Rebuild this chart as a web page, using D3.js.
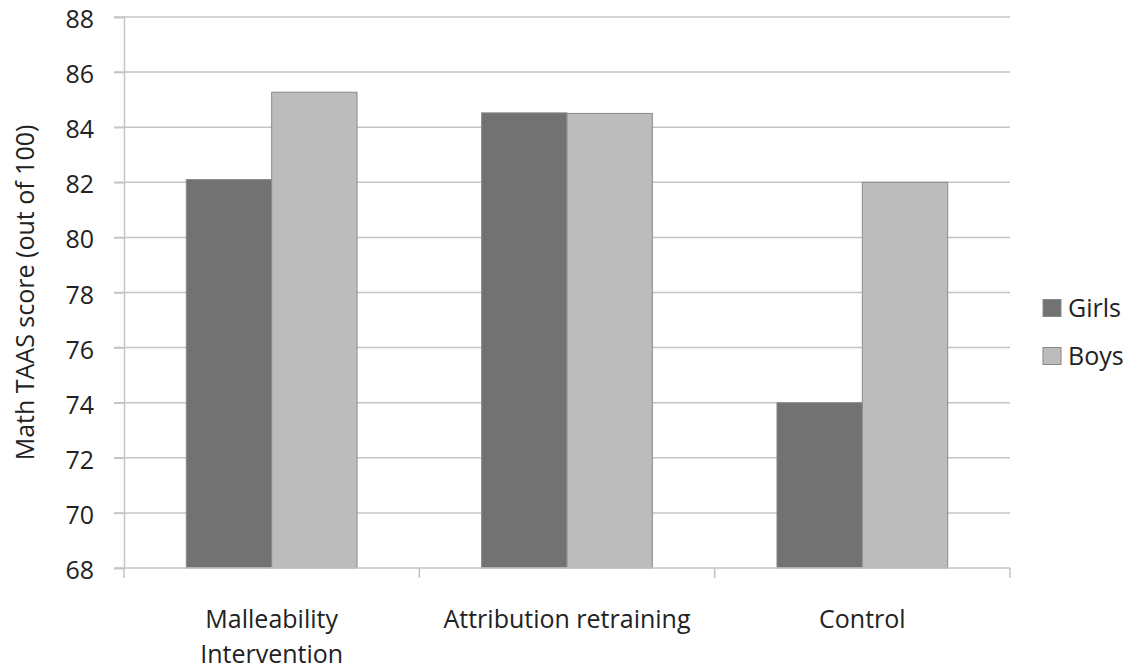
<!DOCTYPE html>
<html>
<head>
<meta charset="utf-8">
<script src="https://cdn.jsdelivr.net/npm/d3@7"></script>
<style>
  body { margin: 0; background: #fff; }
  text { font-family: "Open Sans", sans-serif; fill: #222; }
</style>
</head>
<body>
<div id="chart"></div>
<script>
// chart data
const categories = [["Malleability", "Intervention"], ["Attribution retraining"], ["Control"]];
const seriesNames = ["Girls", "Boys"];
const girls = [82.1, 84.52, 74.0];
const boys = [85.27, 84.5, 82.0];
const yTicks = [68, 70, 72, 74, 76, 78, 80, 82, 84, 86, 88];

const W = 1133, H = 671;
const m = {top: 17, left: 124, right: 123, bottom: 103};
const fs = "25px";

const svg = d3.select("#chart").append("svg")
    .attr("width", W)
    .attr("height", H);

const catKeys = categories.map(c => c.join(" "));

// scales
const x = d3.scaleBand()
    .domain(catKeys)
    .range([m.left, W - m.right]);

const x1 = d3.scaleBand()
    .domain(seriesNames)
    .range([0, x.bandwidth()])
    .paddingOuter(0.73)
    .paddingInner(0);

const y = d3.scaleLinear()
    .domain([68, 88])
    .range([H - m.bottom, m.top]);

const colors = {Girls: "#727272", Boys: "#bcbcbc"};

// gridlines
svg.append("g")
    .selectAll("line")
    .data(yTicks.slice(1))
    .join("line")
    .attr("x1", m.left - 10)
    .attr("x2", W - m.right)
    .attr("y1", d => y(d))
    .attr("y2", d => y(d))
    .attr("stroke", "#c4c4c4")
    .attr("stroke-width", 1.5);

// bars
const rows = catKeys.map((k, i) => ({key: k, Girls: girls[i], Boys: boys[i]}));

svg.append("g")
    .selectAll("g")
    .data(rows)
    .join("g")
    .attr("transform", d => "translate(" + x(d.key) + ",0)")
    .selectAll("rect")
    .data(d => seriesNames.map(s => ({s: s, v: d[s]})))
    .join("rect")
    .attr("x", d => x1(d.s))
    .attr("width", x1.bandwidth())
    .attr("y", d => y(d.v))
    .attr("height", d => y(68) - y(d.v))
    .attr("fill", d => colors[d.s])
    .attr("stroke", "#8a8a8a")
    .attr("stroke-width", 1);

// y axis
const yAxis = d3.axisLeft(y)
    .tickValues(yTicks)
    .tickSize(10)
    .tickPadding(20)
    .tickFormat(d3.format("d"));

const ya = svg.append("g")
    .attr("transform", "translate(" + m.left + ",0)")
    .call(yAxis);
ya.select(".domain").attr("stroke", "#c4c4c4").attr("stroke-width", 1.5);
ya.selectAll(".tick line").attr("stroke", "#c4c4c4").attr("stroke-width", 1.5);
ya.selectAll(".tick text").style("font-size", fs).attr("fill", "#222").attr("dy", "0.42em");

// x axis
const xa = svg.append("g")
    .attr("transform", "translate(0," + y(68) + ")");
xa.append("line")
    .attr("x1", m.left - 10)
    .attr("x2", W - m.right)
    .attr("stroke", "#c4c4c4")
    .attr("stroke-width", 1.5);
xa.selectAll("line.tk")
    .data(catKeys.map(k => x(k)).concat([x(catKeys[2]) + x.bandwidth()]))
    .join("line")
    .attr("class", "tk")
    .attr("x1", d => d)
    .attr("x2", d => d)
    .attr("y1", 0)
    .attr("y2", 10)
    .attr("stroke", "#c4c4c4")
    .attr("stroke-width", 1.5);

const labels = xa.selectAll("text.cat")
    .data(categories)
    .join("text")
    .attr("class", "cat")
    .attr("text-anchor", "middle")
    .attr("x", (d, i) => x(catKeys[i]) + x.bandwidth() / 2)
    .attr("y", 60)
    .style("font-size", fs);
labels.selectAll("tspan")
    .data(d => d)
    .join("tspan")
    .attr("x", function() { return d3.select(this.parentNode).attr("x"); })
    .attr("dy", (d, i) => i === 0 ? 0 : 35)
    .text(d => d);

// y axis title
svg.append("text")
    .attr("transform", "translate(34," + ((m.top + y(68)) / 2) + ") rotate(-90)")
    .attr("text-anchor", "middle")
    .style("font-size", fs)
    .text("Math TAAS score (out of 100)");

// legend
const lg = svg.append("g")
    .attr("transform", "translate(1043,0)");
const items = lg.selectAll("g")
    .data(seriesNames)
    .join("g")
    .attr("transform", (d, i) => "translate(0," + (308 + i * 48) + ")");
items.append("rect")
    .attr("x", 0)
    .attr("y", -8.5)
    .attr("width", 18)
    .attr("height", 17)
    .attr("fill", d => colors[d])
    .attr("stroke", "#8a8a8a");
items.append("text")
    .attr("x", 25)
    .attr("dy", "0.36em")
    .style("font-size", fs)
    .text(d => d);
</script>
</body>
</html>
